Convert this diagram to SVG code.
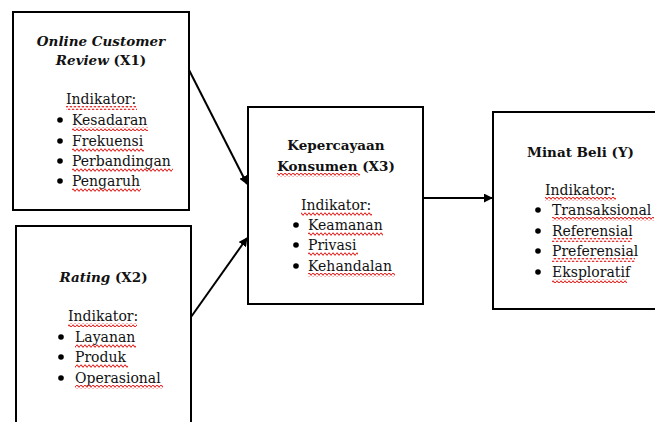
<svg xmlns="http://www.w3.org/2000/svg" width="655" height="422" viewBox="0 0 655 422">
<defs>
<style>
.box{fill:#fff;stroke:#000;stroke-width:2}
.t{font-family:"DejaVu Serif","Liberation Serif",serif;font-size:14px;fill:#111}
.b{font-weight:bold;font-size:13.5px}
.bi{font-weight:bold;font-style:italic;font-size:13.5px}
.c{text-anchor:middle}
.dot{fill:#000}
.w{fill:url(#wave)}
.conn{stroke:#000;stroke-width:2;fill:none;marker-end:url(#ah)}
</style>
<pattern id="wave" patternUnits="userSpaceOnUse" x="0" y="0" width="4" height="4">
<path d="M0,2 Q1,0 2,2 T4,2" fill="none" stroke="#e0201c" stroke-width="1.1"/>
</pattern>
<marker id="ah" viewBox="0 0 10 10" refX="9" refY="5" markerWidth="4.5" markerHeight="4.5" orient="auto" markerUnits="strokeWidth">
<path d="M0,0 L10,5 L0,10 Z" fill="#000"/>
</marker>
</defs>
<rect width="655" height="422" fill="#fff"/>
<g id="connectors">
<line class="conn" x1="188" y1="68" x2="247" y2="184"/>
<line class="conn" x1="191" y1="317" x2="247" y2="238"/>
<line class="conn" x1="423" y1="198" x2="492" y2="198"/>
</g>
<g id="x1">
<rect class="box" x="13" y="12" width="176" height="198"/>
<text class="t bi c" x="101" y="46">Online Customer</text>
<text class="t b c" x="101" y="65"><tspan font-style="italic">Review</tspan> (X1)</text>
<text class="t" x="66" y="104">Indikator:</text>
<circle class="dot" cx="60" cy="120" r="2.8"/><text class="t" x="72" y="125">Kesadaran</text>
<circle class="dot" cx="60" cy="141" r="2.8"/><text class="t" x="72" y="146">Frekuensi</text>
<circle class="dot" cx="60" cy="161" r="2.8"/><text class="t" x="72" y="166">Perbandingan</text>
<circle class="dot" cx="60" cy="181" r="2.8"/><text class="t" x="72" y="186">Pengaruh</text>
<rect class="w" x="66" y="106" width="71" height="4"/>
<rect class="w" x="72" y="127" width="76" height="4"/>
<rect class="w" x="72" y="148" width="72" height="4"/>
<rect class="w" x="72" y="168" width="101" height="4"/>
<rect class="w" x="72" y="188" width="69" height="4"/>
</g>
<g id="x2">
<rect class="box" x="16" y="226" width="175" height="210"/>
<text class="t b c" x="103.5" y="282"><tspan font-style="italic">Rating</tspan> (X2)</text>
<text class="t" x="68" y="321">Indikator:</text>
<circle class="dot" cx="61" cy="337" r="2.8"/><text class="t" x="75" y="342">Layanan</text>
<circle class="dot" cx="61" cy="357" r="2.8"/><text class="t" x="75" y="362">Produk</text>
<circle class="dot" cx="61" cy="378" r="2.8"/><text class="t" x="75" y="383">Operasional</text>
<rect class="w" x="68" y="323" width="69" height="4"/>
<rect class="w" x="75" y="344" width="61" height="4"/>
<rect class="w" x="75" y="364" width="53" height="4"/>
<rect class="w" x="75" y="385" width="88" height="4"/>
</g>
<g id="x3">
<rect class="box" x="248" y="107" width="175" height="197"/>
<text class="t b c" x="336" y="150">Kepercayaan</text>
<text class="t b c" x="336" y="171">Konsumen (X3)</text>
<text class="t" x="301" y="210">Indikator:</text>
<circle class="dot" cx="296" cy="225" r="2.8"/><text class="t" x="308" y="230">Keamanan</text>
<circle class="dot" cx="296" cy="245" r="2.8"/><text class="t" x="308" y="250">Privasi</text>
<circle class="dot" cx="296" cy="266" r="2.8"/><text class="t" x="308" y="271">Kehandalan</text>
<rect class="w" x="277" y="173" width="83" height="4"/>
<rect class="w" x="301" y="212" width="71" height="4"/>
<rect class="w" x="308" y="232" width="75" height="4"/>
<rect class="w" x="308" y="252" width="50" height="4"/>
<rect class="w" x="308" y="273" width="87" height="4"/>
</g>
<g id="y">
<rect class="box" x="493" y="112" width="175" height="197"/>
<text class="t b c" x="580.5" y="157">Minat Beli (Y)</text>
<text class="t" x="545" y="195">Indikator:</text>
<circle class="dot" cx="538" cy="210" r="2.8"/><text class="t" x="552" y="215">Transaksional</text>
<circle class="dot" cx="538" cy="231" r="2.8"/><text class="t" x="552" y="236">Referensial</text>
<circle class="dot" cx="538" cy="251" r="2.8"/><text class="t" x="552" y="256">Preferensial</text>
<circle class="dot" cx="538" cy="272" r="2.8"/><text class="t" x="552" y="277">Eksploratif</text>
<rect class="w" x="545" y="197" width="71" height="4"/>
<rect class="w" x="552" y="217" width="102" height="4"/>
<rect class="w" x="552" y="238" width="80" height="4"/>
<rect class="w" x="552" y="258" width="83" height="4"/>
<rect class="w" x="552" y="279" width="75" height="4"/>
</g>
</svg>
